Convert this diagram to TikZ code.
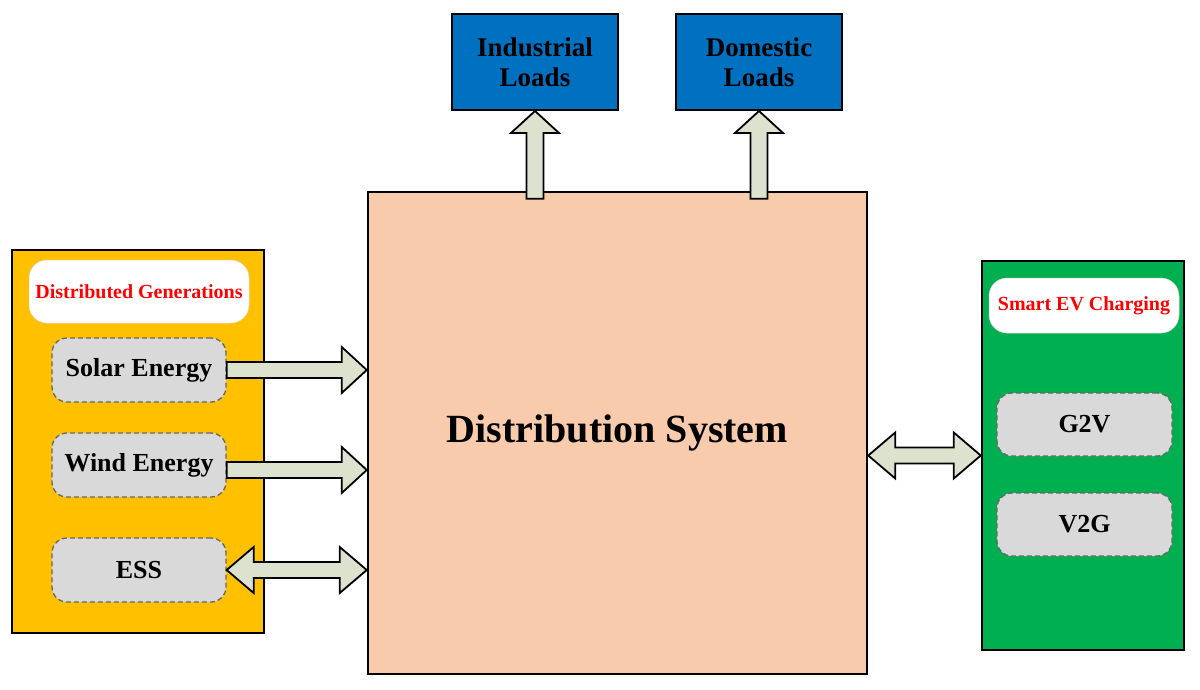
\documentclass[tikz,border=0pt]{standalone}
\usepackage{fontspec}
\setmainfont{Liberation Serif}
\usetikzlibrary{positioning,calc}

\definecolor{peach}{RGB}{248,203,173}
\definecolor{loadblue}{RGB}{0,112,192}
\definecolor{dgorange}{RGB}{255,192,0}
\definecolor{evgreen}{RGB}{0,176,80}
\definecolor{boxgrey}{RGB}{217,217,217}
\definecolor{arrowfill}{RGB}{221,226,206}

% block arrows between named points
\newcommand{\rarrow}[2]{%
  \draw[blockarrow] let \p1=#1, \p2=#2 in
    (\x1,\y1+8pt) -- (\x2-25pt,\y1+8pt) -- (\x2-25pt,\y1+23pt) -- (\x2,\y1)
    -- (\x2-25pt,\y1-23pt) -- (\x2-25pt,\y1-8pt) -- (\x1,\y1-8pt) -- cycle;}
\newcommand{\lrarrow}[2]{%
  \draw[blockarrow] let \p1=#1, \p2=#2 in
    (\x1,\y1) -- (\x1+27pt,\y1+23pt) -- (\x1+27pt,\y1+8pt) -- (\x2-27pt,\y1+8pt)
    -- (\x2-27pt,\y1+23pt) -- (\x2,\y1) -- (\x2-27pt,\y1-23pt) -- (\x2-27pt,\y1-8pt)
    -- (\x1+27pt,\y1-8pt) -- (\x1+27pt,\y1-23pt) -- cycle;}
\newcommand{\uarrow}[2]{%
  \draw[blockarrow] let \p1=#1, \p2=#2 in
    (\x1-8.5pt,\y1) -- (\x1-8.5pt,\y2-22pt) -- (\x1-24pt,\y2-22pt) -- (\x1,\y2)
    -- (\x1+24pt,\y2-22pt) -- (\x1+8.5pt,\y2-22pt) -- (\x1+8.5pt,\y1) -- cycle;}

\begin{document}
\begin{tikzpicture}[x=1pt,y=-1pt,
    panel/.style={draw,line width=2.5pt,inner sep=0pt},
    title box/.style={fill=white,draw=black!15,line width=.5pt,rounded corners=18pt,
      text=red,font=\fontsize{20}{22}\selectfont\bfseries,inner sep=0pt},
    item box/.style={fill=boxgrey,draw=black!60,dashed,dash pattern=on 5pt off 3pt,
      line width=1.3pt,rounded corners=15pt,minimum width=174pt,minimum height=64pt,
      font=\fontsize{26}{28}\selectfont\bfseries,inner sep=0pt},
    load box/.style={panel,fill=loadblue,line width=2pt,minimum width=166pt,minimum height=96pt,
      align=center,font=\fontsize{27}{30}\selectfont\bfseries},
    blockarrow/.style={fill=arrowfill,draw=black,line width=1.8pt,line join=miter}]

  \useasboundingbox (0,0) rectangle (1200,689);

  % centre block and loads
  \node[panel,fill=peach,minimum width=499pt,minimum height=482pt,
        font=\fontsize{40}{44}\selectfont\bfseries] (ds) at (617.5,433) {Distribution System};
  \node[load box] (ind) at (535,62) {Industrial\\Loads};
  \node[load box] (dom) at (759,62) {Domestic\\Loads};

  % distributed generations
  \node[panel,fill=dgorange,minimum width=252pt,minimum height=383pt] (dg) at (138,441.5) {};
  \node[title box,minimum width=220pt,minimum height=63pt] (dgt) at (139,291.5) {Distributed Generations};
  \node[item box] (solar) at (139,370) {Solar Energy};
  \node[item box] (wind) at (139,465) {Wind Energy};
  \node[item box] (ess) at (139,570) {ESS};

  % smart EV charging
  \node[panel,fill=evgreen,minimum width=202pt,minimum height=389pt] (ev) at (1083,455.5) {};
  \node[title box,minimum width=190pt,minimum height=55pt] (evt) at (1084,305.5) {Smart EV Charging};
  \node[item box,minimum width=175pt,minimum height=63pt] (g2v) at (1084.5,424.5) {G2V};
  \node[item box,minimum width=175pt,minimum height=63pt] (v2g) at (1084.5,524.5) {V2G};

  % power flows
  \rarrow{(solar.east)}{(ds.west |- solar.east)}
  \rarrow{([yshift=-5pt]wind.east)}{([yshift=-5pt]ds.west |- wind.east)}
  \lrarrow{(ess.east)}{(ds.west |- ess.east)}
  \lrarrow{(ds.east |- ev.west)}{(ev.west)}
  \uarrow{([yshift=-8pt]ds.north -| ind.south)}{(ind.south)}
  \uarrow{([yshift=-8pt]ds.north -| dom.south)}{(dom.south)}
\end{tikzpicture}
\end{document}
